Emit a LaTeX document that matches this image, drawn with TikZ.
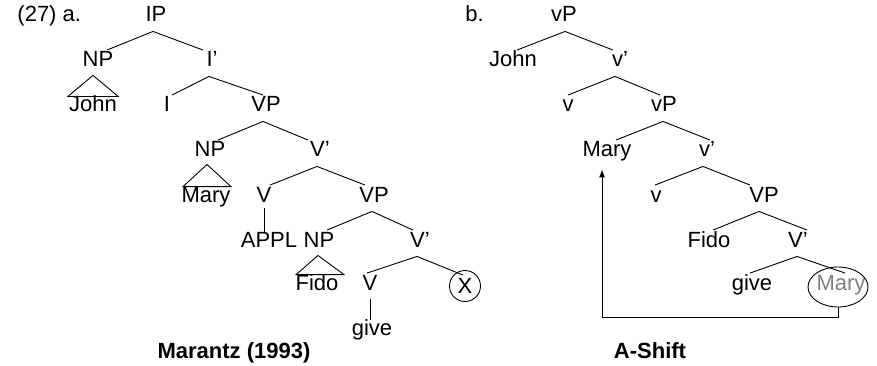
\documentclass[tikz,border=0pt]{standalone}
\usepackage{fontspec}
\setmainfont{Liberation Sans}
\usetikzlibrary{shapes.geometric,arrows.meta}
\newcommand\tfont{\fontsize{22}{26}\selectfont}
\newcommand\br[4]{\draw ([shift={(#2pt,-5pt)}]#1.south) -- ([shift={(#4pt,1.5pt)}]#3.north);}
\begin{document}
\begin{tikzpicture}[x=1pt,y=-1pt,line width=0.9pt,
  tl/.style={inner sep=0pt,anchor=base,text height=15pt,text depth=4pt,font=\tfont},
  lab/.style={inner sep=0pt,anchor=base west,font=\tfont},
  captxt/.style={inner sep=0pt,anchor=base,font=\tfont\bfseries}]
\useasboundingbox (0,0) rectangle (877,366);
% ---------- tree a ----------
\node[lab] (n27) at (17,22) {(27) a.};
\node[tl] (IP) at (156,22) {IP};
\node[tl] (NPa) at (98,67) {NP};
\node[tl] (Ibar) at (212,67) {I’};
\node[tl] (Johna) at (93,112) {John};
\node[tl] (I) at (167,112) {I};
\node[tl] (VPa) at (266,112) {VP};
\node[tl] (NPb) at (210,157) {NP};
\node[tl] (Vbara) at (320,157) {V’};
\node[tl] (Marya) at (206,202) {Mary};
\node[tl] (Va) at (264,202) {V};
\node[tl] (VPb) at (374,202) {VP};
\node[tl] (APPL) at (269,247) {APPL};
\node[tl] (NPc) at (319,247) {NP};
\node[tl] (Vbarb) at (420,247) {V’};
\node[tl] (Fidoa) at (317,290) {Fido};
\node[tl] (Vb) at (370,290) {V};
\node[circle,draw,inner sep=0pt,minimum size=31pt,font=\tfont] (X) at (465,286) {X};
\node[tl] (givea) at (372,335) {give};
\node[captxt] (marantz) at (234,358) {Marantz (1993)};
\br{IP}{-3}{NPa}{9}
\br{IP}{-3}{Ibar}{-9}
\draw ([shift={(-5pt,-4pt)}]NPa.south) -- ([xshift=-1pt]Johna.north west) -- ([xshift=1pt]Johna.north east) -- cycle;
\br{Ibar}{-3}{I}{5}
\br{Ibar}{-3}{VPa}{-3}
\br{VPa}{-3}{NPb}{8}
\br{VPa}{-3}{Vbara}{-12}
\draw ([shift={(-3pt,-3pt)}]NPb.south) -- ([xshift=2pt]Marya.north west) -- ([xshift=0pt]Marya.north east) -- cycle;
\br{Vbara}{-3}{Va}{6}
\br{Vbara}{-3}{VPb}{-9}
\draw ([yshift=-2pt]Va.south) -- (APPL.north -| Va.south);
\br{VPb}{-2}{NPc}{8}
\br{VPb}{-2}{Vbarb}{-7}
\draw ([shift={(-1pt,-4pt)}]NPc.south) -- ([xshift=1pt]Fidoa.north west) -- ([xshift=5pt]Fidoa.north east) -- cycle;
\br{Vbarb}{-3}{Vb}{-3}
\draw ([shift={(-3pt,-5pt)}]Vbarb.south) -- ([shift={(-2pt,-5pt)}]X.north);
\draw ([yshift=-5pt]Vb.south) -- (givea.north -| Vb.south);
% ---------- tree b ----------
\node[lab] (nb) at (465,22) {b.};
\node[tl] (vPa) at (564,22) {vP};
\node[tl] (Johnb) at (513,67) {John};
\node[tl] (vbara) at (620,67) {v’};
\node[tl] (va) at (568,112) {v};
\node[tl] (vPb) at (664,112) {vP};
\node[tl] (Maryb) at (607,157) {Mary};
\node[tl] (vbarb) at (707,157) {v’};
\node[tl] (vb) at (656,202) {v};
\node[tl] (VPc) at (764,202) {VP};
\node[tl] (Fidob) at (709,247) {Fido};
\node[tl] (Vbarc) at (798,247) {V’};
\node[tl] (giveb) at (752,290) {give};
\node[tl,text=black!50] (Maryc) at (841,290) {Mary};
\node[ellipse,draw,inner sep=0pt,minimum width=60pt,minimum height=40pt] (ell) at (838,287) {};
\node[captxt] (ashift) at (650,358) {A-Shift};
\br{vPa}{1}{Johnb}{4}
\br{vPa}{1}{vbara}{-7}
\br{vbara}{-5}{va}{0}
\br{vbara}{-5}{vPb}{-4}
\br{vPb}{-1}{Maryb}{9}
\br{vPb}{-1}{vbarb}{3}
\br{vbarb}{-4}{vb}{-1}
\br{vbarb}{-4}{VPc}{-14}
\br{VPc}{-5}{Fidob}{4}
\br{VPc}{-5}{Vbarc}{9}
\br{Vbarc}{-1}{giveb}{-2}
\br{Vbarc}{-1}{Maryc}{4}
\coordinate (turn) at (602,317);
\draw[-{Latex[length=8pt,width=6pt]}] (ell.south) -- (ell.south |- turn) -- (turn) -- ([yshift=-8pt]Maryb.south -| turn);
\end{tikzpicture}
\end{document}
